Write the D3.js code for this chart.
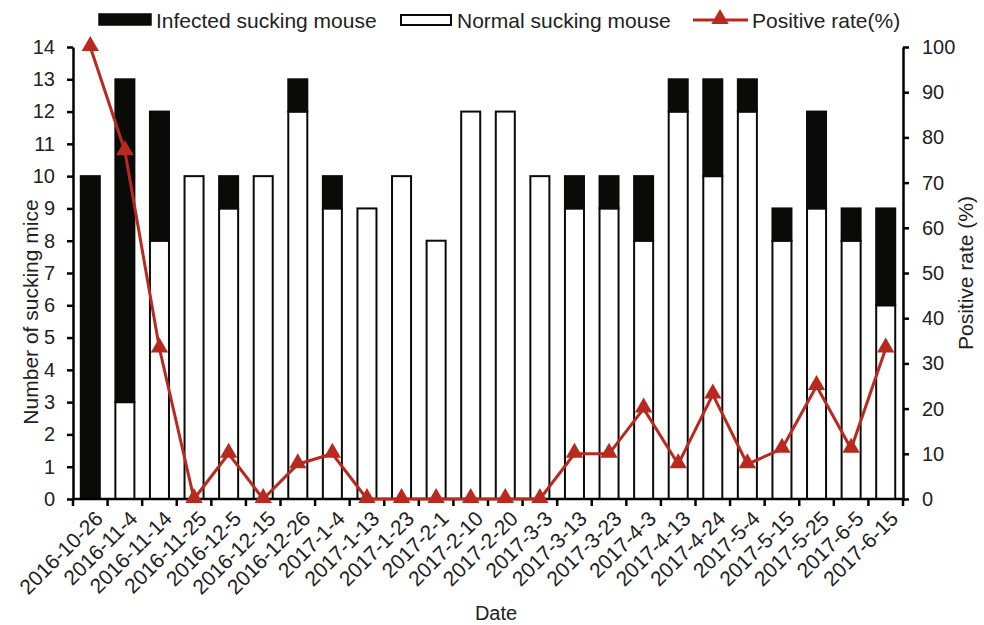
<!DOCTYPE html>
<html>
<head>
<meta charset="utf-8">
<script src="https://cdn.jsdelivr.net/npm/d3@7"></script>
<style>
body { margin: 0; background: #fff; }
svg { font-family: Arial, "Liberation Sans", sans-serif; }
.axis text { font-size: 20px; fill: #222; }
.axis text.xl { font-size: 21px; }
.axis path, .axis line { stroke: #000; stroke-width: 2.5px; }
</style>
</head>
<body>
<svg width="984" height="625"></svg>
<script>
var dates = ["2016-10-26","2016-11-4","2016-11-14","2016-11-25","2016-12-5","2016-12-15",
	"2016-12-26","2017-1-4","2017-1-13","2017-1-23","2017-2-1","2017-2-10","2017-2-20",
	"2017-3-3","2017-3-13","2017-3-23","2017-4-3","2017-4-13","2017-4-24","2017-5-4",
	"2017-5-15","2017-5-25","2017-6-5","2017-6-15"];
var normal   = [0, 3, 8, 10, 9, 10, 12, 9, 9, 10, 8, 12, 12, 10, 9, 9, 8, 12, 10, 12, 8, 9, 8, 6];
var infected = [10, 10, 4, 0, 1, 0, 1, 1, 0, 0, 0, 0, 0, 0, 1, 1, 2, 1, 3, 1, 1, 3, 1, 3];
var rate     = [100, 77, 33.3, 0, 10, 0, 7.7, 10, 0, 0, 0, 0, 0, 0, 10, 10, 20, 7.7, 23.1, 7.7, 11.1, 25, 11.1, 33.3];
var leftTicks = [0,1,2,3,4,5,6,7,8,9,10,11,12,13,14];
var rightTicks = [0,10,20,30,40,50,60,70,80,90,100];

var svg = d3.select("svg");
var plotLeft = 73, plotRight = 903, plotTop = 47, plotBottom = 499;
var red = "#b8291f";

var x = d3.scaleBand().domain(dates).range([plotLeft, plotRight]).paddingInner(0.45).paddingOuter(0.225);
var y = d3.scaleLinear().domain([0, 14]).range([plotBottom, plotTop]);
var y2 = d3.scaleLinear().domain([0, 100]).range([plotBottom, plotTop]);

// bars: normal at bottom, infected stacked on top
var rows = dates.map(function(d, i) { return { date: d, normal: normal[i], infected: infected[i], rate: rate[i] }; });

svg.append("g").selectAll("rect")
	.data(rows.filter(function(r) { return r.normal > 0; }))
	.enter().append("rect")
	.attr("x", function(r) { return x(r.date); })
	.attr("width", x.bandwidth())
	.attr("y", function(r) { return y(r.normal); })
	.attr("height", function(r) { return y(0) - y(r.normal); })
	.attr("fill", "#fff").attr("stroke", "#0a0a08").attr("stroke-width", 2);

svg.append("g").selectAll("rect")
	.data(rows.filter(function(r) { return r.infected > 0; }))
	.enter().append("rect")
	.attr("x", function(r) { return x(r.date); })
	.attr("width", x.bandwidth())
	.attr("y", function(r) { return y(r.normal + r.infected); })
	.attr("height", function(r) { return y(r.normal) - y(r.normal + r.infected); })
	.attr("fill", "#0a0a08").attr("stroke", "#0a0a08").attr("stroke-width", 2);

// axes
var xAxis = svg.append("g").attr("class", "axis").attr("transform", "translate(0," + plotBottom + ")");
xAxis.append("path").attr("class", "domain").attr("d", "M" + plotLeft + ",0H" + plotRight);
// ticks sit between categories
var step = (plotRight - plotLeft) / dates.length;
xAxis.selectAll(".btick").data(d3.range(dates.length + 1)).enter().append("line")
	.attr("class", "btick")
	.attr("x1", function(i) { return plotLeft + i * step; })
	.attr("x2", function(i) { return plotLeft + i * step; })
	.attr("y1", 0).attr("y2", 7);
xAxis.selectAll(".xl").data(dates).enter().append("text")
	.attr("class", "xl")
	.attr("transform", function(d) { return "translate(" + (x(d) + x.bandwidth() / 2 + 5) + ",12) rotate(-45)"; })
	.attr("text-anchor", "end").attr("dy", "0.6em")
	.text(function(d) { return d; });

svg.append("g").attr("class", "axis").attr("transform", "translate(" + plotLeft + ",0)")
	.call(d3.axisLeft(y).tickValues(leftTicks).tickSize(6).tickSizeOuter(0).tickPadding(12));
svg.append("g").attr("class", "axis").attr("transform", "translate(" + plotRight + ",0)")
	.call(d3.axisRight(y2).tickValues(rightTicks).tickSize(6).tickSizeOuter(0).tickPadding(13));

// positive rate line
var cx = function(r) { return x(r.date) + x.bandwidth() / 2; };
svg.append("path").datum(rows)
	.attr("fill", "none").attr("stroke", red).attr("stroke-width", 3)
	.attr("d", d3.line().x(cx).y(function(r) { return y2(r.rate); }));
var tri = d3.symbol().type(d3.symbolTriangle).size(130);
svg.append("g").selectAll("path").data(rows).enter().append("path")
	.attr("d", tri)
	.attr("transform", function(r) { return "translate(" + cx(r) + "," + (y2(r.rate) - 1) + ")"; })
	.attr("fill", red);

// axis titles
svg.append("text").attr("transform", "translate(38,312) rotate(-90)")
	.attr("text-anchor", "middle").attr("font-size", 21).attr("fill", "#222").text("Number of sucking mice");
svg.append("text").attr("transform", "translate(973,273) rotate(-90)")
	.attr("text-anchor", "middle").attr("font-size", 21).attr("fill", "#222").text("Positive rate (%)");
svg.append("text").attr("x", 496).attr("y", 620)
	.attr("text-anchor", "middle").attr("font-size", 20).attr("fill", "#222").text("Date");

// legend
var legend = svg.append("g").attr("font-size", 21).attr("fill", "#222");
legend.append("rect").attr("x", 99).attr("y", 14).attr("width", 52).attr("height", 11)
	.attr("fill", "#0a0a08").attr("stroke", "#0a0a08").attr("stroke-width", 1.5);
legend.append("text").attr("x", 156).attr("y", 28).text("Infected sucking mouse");
legend.append("rect").attr("x", 401).attr("y", 15).attr("width", 50).attr("height", 10)
	.attr("fill", "#fff").attr("stroke", "#0a0a08").attr("stroke-width", 2);
legend.append("text").attr("x", 457).attr("y", 28).text("Normal sucking mouse");
legend.append("line").attr("x1", 693).attr("x2", 748).attr("y1", 20).attr("y2", 20)
	.attr("stroke", red).attr("stroke-width", 3);
legend.append("path").attr("d", tri).attr("transform", "translate(720,19)").attr("fill", red);
legend.append("text").attr("x", 752).attr("y", 28).text("Positive rate(%)");
</script>
</body>
</html>
